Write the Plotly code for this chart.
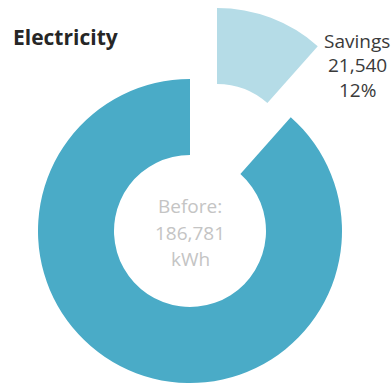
import plotly.graph_objects as go

# Electricity consumption split (kWh)
categories = ["Savings", "After"]
values = [21540, 165241]
before_total = sum(values)
colors = ["#B5DCE7", "#4AABC7"]

W, H = 392, 383
R = 152          # ring radius in px
HOLE = 0.5
# ring centre and the pulled-out savings wedge centre (px from top-left)
main_c = (190, 231)
pull_c = (217, 160)


def domain(c):
    x0 = (c[0] - R) / W
    x1 = (c[0] + R) / W
    y0 = (H - c[1] - R) / H
    y1 = (H - c[1] + R) / H
    return dict(x=[x0, x1], y=[y0, y1])


fig = go.Figure()

# main ring: savings wedge left transparent
fig.add_trace(go.Pie(
    labels=categories, values=values, hole=HOLE, sort=False,
    direction="clockwise", rotation=0,
    marker=dict(colors=["rgba(0,0,0,0)", colors[1]],
                line=dict(color="white", width=0)),
    textinfo="none", hoverinfo="label+value", showlegend=False,
    domain=domain(main_c),
))

# exploded savings wedge
fig.add_trace(go.Pie(
    labels=categories, values=values, hole=HOLE, sort=False,
    direction="clockwise", rotation=0,
    marker=dict(colors=[colors[0], "rgba(0,0,0,0)"],
                line=dict(color="white", width=0)),
    textinfo="none", hoverinfo="label+value", showlegend=False,
    domain=domain(pull_c),
))

share = values[0] / before_total
fig.add_annotation(
    x=11 / W, y=1 - 37 / H, xref="paper", yref="paper",
    xanchor="left", yanchor="middle", showarrow=False,
    text="<b>Electricity</b>",
    font=dict(family="Open Sans", size=21, color="#262626"),
)
for i, t in enumerate([categories[0], f"{values[0]:,}", f"{share:.0%}"]):
    fig.add_annotation(
        x=357 / W, y=1 - (40.5 + i * 24.5) / H, xref="paper", yref="paper",
        xanchor="center", yanchor="middle", showarrow=False, text=t,
        font=dict(family="Open Sans", size=19, color="#3A3A3A"),
    )
for i, t in enumerate(["Before:", f"{before_total:,}", "kWh"]):
    fig.add_annotation(
        x=main_c[0] / W, y=1 - (206 + i * 26.5) / H, xref="paper", yref="paper",
        xanchor="center", yanchor="middle", showarrow=False, text=t,
        font=dict(family="Open Sans", size=19, color="#C4C4C4"),
    )

fig.update_layout(
    width=W, height=H, margin=dict(l=0, r=0, t=0, b=0),
    paper_bgcolor="white", plot_bgcolor="white",
)
fig.write_html("out.html")
